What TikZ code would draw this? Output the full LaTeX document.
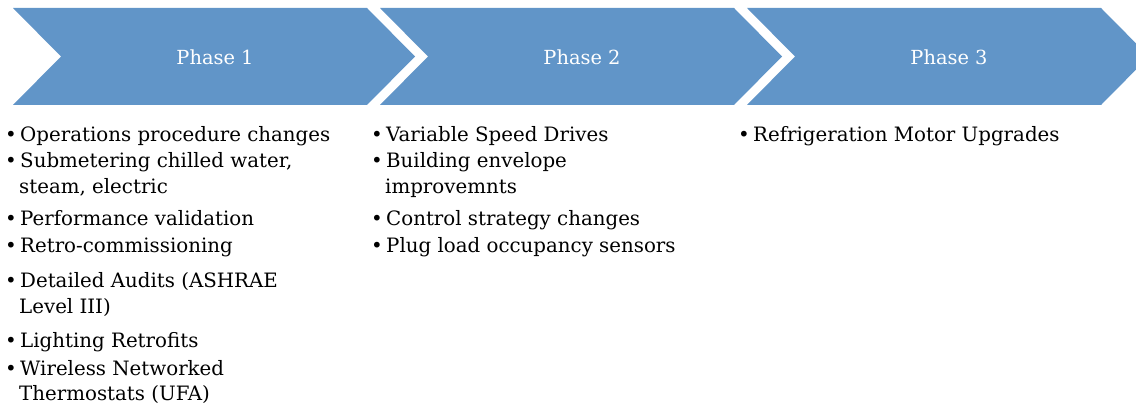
\documentclass[tikz,border=0pt]{standalone}
\usepackage{fontspec}
\setmainfont{DejaVu Serif}
\definecolor{phaseblue}{RGB}{97,149,200}
\newcommand\itemfont{\fontsize{19.8}{25}\selectfont}
\newcommand\phasefont{\fontsize{19.4}{23}\selectfont}
\newcommand\bul{\makebox[15pt][l]{•}}
\tikzset{
  chev/.style={fill=phaseblue, draw=none},
  phase/.style={text=white, font=\phasefont, anchor=base, inner sep=0pt},
  item/.style={anchor=base west, inner sep=0pt, font=\itemfont, text=black},
}
\begin{document}
\begin{tikzpicture}[x=1pt,y=-1pt]
\useasboundingbox (0,0) rectangle (1136,406);
\begin{scope}
\clip (0,0) rectangle (1136,406);
\foreach \x in {13,380,747}{
  \path[chev] (\x,8) -- ++(354,0) -- ++(48,48.5) -- ++(-48,48.5) -- ++(-354,0) -- ++(48,-48.5) -- cycle;
}
\end{scope}
\node[phase] (p1) at (215,65) {Phase 1};
\node[phase] (p2) at (582,65) {Phase 2};
\node[phase] (p3) at (949,65) {Phase 3};
% column 1
\node[item] (a1) at (5,142) {\bul Operations procedure changes};
\node[item] (a2) at (5,168) {\bul Submetering chilled water,};
\node[item] (a2b) at (19,194) {steam, electric};
\node[item] (a3) at (5,226) {\bul Performance validation};
\node[item] (a4) at (5,253) {\bul Retro-commissioning};
\node[item] (a5) at (5,288) {\bul Detailed Audits (ASHRAE};
\node[item] (a5b) at (19,313) {Level III)};
\node[item] (a6) at (5,348) {\bul Lighting Retrofits};
\node[item] (a7) at (5,375) {\bul Wireless Networked};
\node[item] (a7b) at (19,400) {Thermostats (UFA)};
% column 2
\node[item] (b1) at (371,142) {\bul Variable Speed Drives};
\node[item] (b2) at (371,168) {\bul Building envelope};
\node[item] (b2b) at (385,194) {improvemnts};
\node[item] (b3) at (371,226) {\bul Control strategy changes};
\node[item] (b4) at (371,253) {\bul Plug load occupancy sensors};
% column 3
\node[item] (c1) at (738,142) {\bul Refrigeration Motor Upgrades};
\end{tikzpicture}
\end{document}
